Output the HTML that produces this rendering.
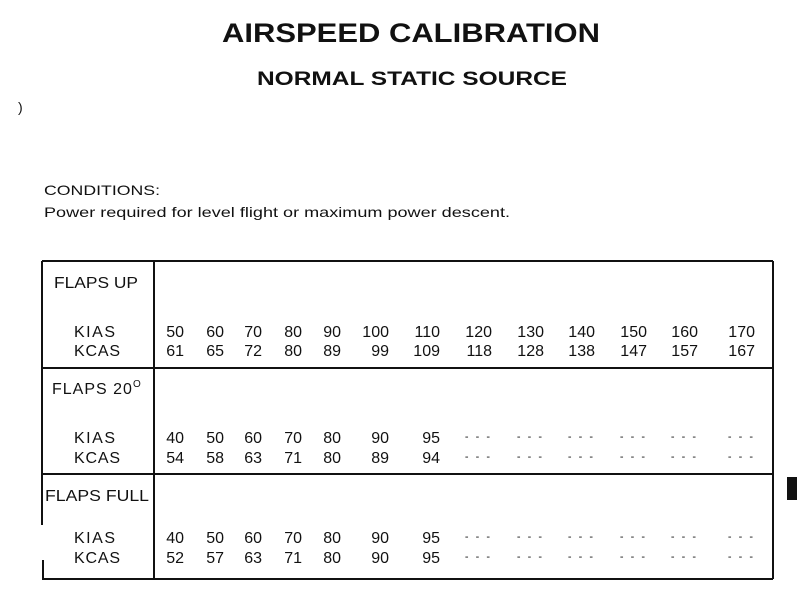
<!DOCTYPE html>
<html><head><meta charset="utf-8"><style>html,body{margin:0;padding:0;background:#fff}svg{display:block}text{font-family:"Liberation Sans",sans-serif;fill:#111}</style></head>
<body>
<svg width="810" height="596" viewBox="0 0 810 596">
<text x="222" y="42" font-size="27" font-weight="bold" textLength="378" lengthAdjust="spacingAndGlyphs">AIRSPEED CALIBRATION</text>
<text x="257" y="85" font-size="19" font-weight="bold" textLength="310" lengthAdjust="spacingAndGlyphs">NORMAL STATIC SOURCE</text>
<text x="18" y="112" font-size="14" fill="#999">)</text>
<text x="44" y="195" font-size="14" textLength="116" lengthAdjust="spacingAndGlyphs">CONDITIONS:</text>
<text x="44" y="217" font-size="14" textLength="466" lengthAdjust="spacingAndGlyphs">Power required for level flight or maximum power descent.</text>
<g stroke="#111" stroke-width="2" fill="none">
<line x1="42" y1="261" x2="773" y2="261"/>
<line x1="42" y1="261" x2="42" y2="525"/>
<line x1="43" y1="560" x2="43" y2="579"/>
<line x1="42" y1="579" x2="773" y2="579"/>
<line x1="773" y1="261" x2="773" y2="579"/>
<line x1="154" y1="261" x2="154" y2="579"/>
<line x1="42" y1="368" x2="773" y2="368"/>
<line x1="42" y1="474" x2="773" y2="474"/>
</g>
<rect x="787" y="477" width="10" height="23" fill="#111"/>
<g id="cells" font-size="16"></g>
</svg>
<script>
const speedsUpKias=[50,60,70,80,90,100,110,120,130,140,150,160,170];
const speedsUpKcas=[61,65,72,80,89,99,109,118,128,138,147,157,167];
const flaps20Kias=[40,50,60,70,80,90,95,null,null,null,null,null,null];
const flaps20Kcas=[54,58,63,71,80,89,94,null,null,null,null,null,null];
const flapsFullKias=[40,50,60,70,80,90,95,null,null,null,null,null,null];
const flapsFullKcas=[52,57,63,71,80,90,95,null,null,null,null,null,null];
const sectionLabels=["FLAPS UP","FLAPS 20","FLAPS FULL"];
const colRight=[184,224,262,302,341,389,440,492,544,595,647,698,755];
const ns="http://www.w3.org/2000/svg";
const g=document.getElementById('cells');
function txt(x,y,s,anchor,size,name){const t=document.createElementNS(ns,'text');t.setAttribute('x',x);t.setAttribute('y',y);if(anchor)t.setAttribute('text-anchor',anchor);if(size)t.setAttribute('font-size',size);t.textContent=s;


g.appendChild(t);return t;}
const sections=[{label:sectionLabels[0],ly:288,lx:54,lw:84,k:speedsUpKias,c:speedsUpKcas,y1:337,y2:356},
{label:sectionLabels[1],ly:394,lx:52,lw:0,k:flaps20Kias,c:flaps20Kcas,y1:443,y2:463},
{label:sectionLabels[2],ly:501,lx:45,lw:104,k:flapsFullKias,c:flapsFullKcas,y1:543,y2:563}];
sections.forEach((s,i)=>{
 const l=txt(s.lx,s.ly,s.label,null,16,'section-label');
 if(s.lw){l.setAttribute('textLength',s.lw);
 l.setAttribute('lengthAdjust','spacingAndGlyphs');}
 else {l.setAttribute('letter-spacing','1');}
 if(i==1){const sup=document.createElementNS(ns,'tspan');sup.setAttribute('dy','-7');sup.setAttribute('font-size','10');sup.textContent='O';l.appendChild(sup);}
 const a=txt(74,s.y1,'KIAS',null,16,'kias-label');
 a.setAttribute('textLength','41');
 const b=txt(74,s.y2,'KCAS',null,16,'kcas-label');
 b.setAttribute('textLength','46');
 [[s.k,s.y1,'kias'],[s.c,s.y2,'kcas']].forEach(([arr,y,n])=>{
  arr.forEach((v,j)=>{
   if(v===null){const d=txt(colRight[j],y-3,'- - -','end',11,n+'-empty');d.setAttribute('letter-spacing','2');}
   else txt(colRight[j],y,String(v),'end',16,n+'-value');
  });
 });
});
</script>
</body></html>
